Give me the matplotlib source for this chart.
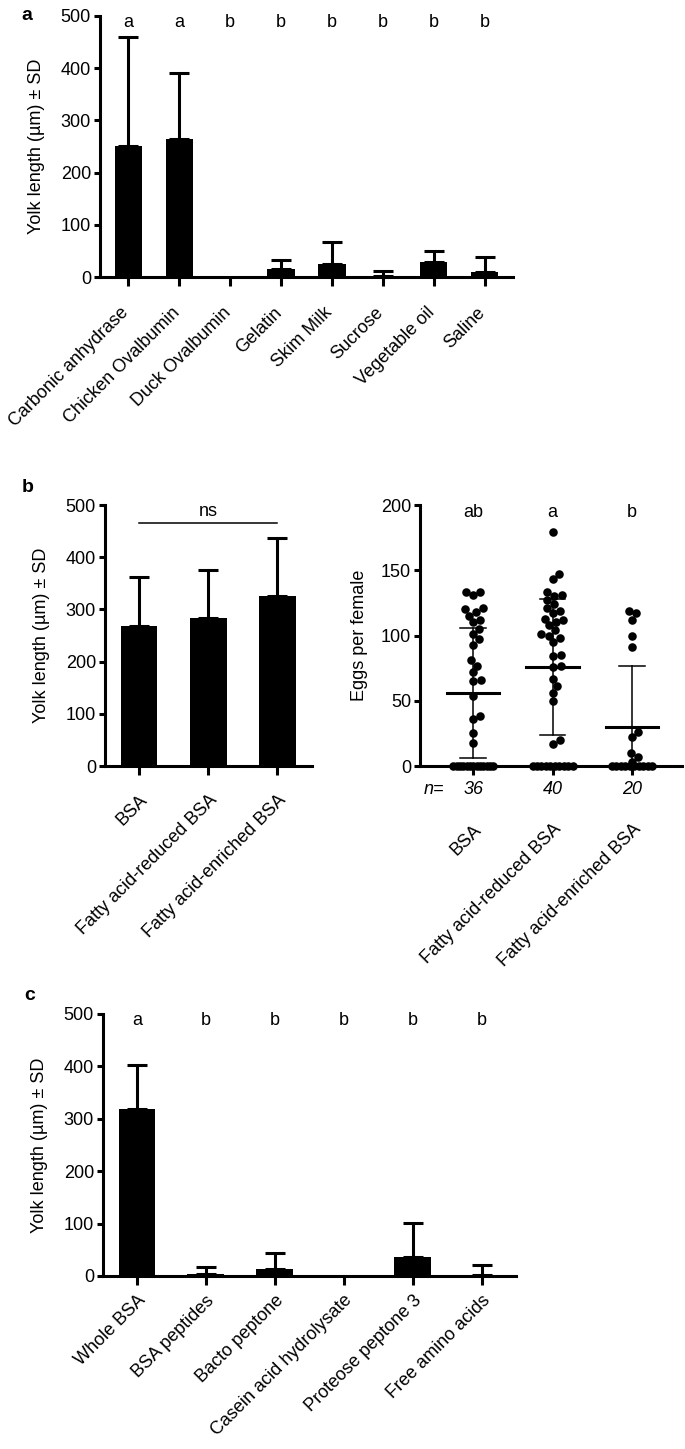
import numpy as np
import matplotlib
matplotlib.use('Agg')
import matplotlib.pyplot as plt
from matplotlib.transforms import ScaledTranslation

plt.rcParams['font.family'] = ['Liberation Sans', 'DejaVu Sans']
plt.rcParams['font.size'] = 13

W, H = 685, 1449

########################################################
# data
a_labels = ['Carbonic anhydrase', 'Chicken Ovalbumin', 'Duck Ovalbumin', 'Gelatin',
            'Skim Milk', 'Sucrose', 'Vegetable oil', 'Saline']
a_means = [251, 264, 0, 16, 24, 1, 29, 10]
a_sd = [209, 126, 0, 17, 44, 11, 21, 28]
a_letters = ['a', 'a', 'b', 'b', 'b', 'b', 'b', 'b']

b_labels = ['BSA', 'Fatty acid-reduced BSA', 'Fatty acid-enriched BSA']
b_means = [269, 283, 326]
b_sd = [94, 93, 110]

eggs_bsa = [133, 133, 131, 121, 120, 118, 115, 112, 110, 105, 101, 97, 93, 81, 77, 72,
            66, 65, 54, 38, 36, 25, 18] + [0] * 13
eggs_reduced = [179, 147, 143, 133, 131, 130, 127, 124, 121, 119, 117, 113, 112, 110, 108,
                104, 101, 100, 98, 95, 85, 84, 77, 76, 67, 61, 56, 50, 20, 17] + [0] * 10
eggs_enriched = [119, 117, 112, 100, 91, 26, 22, 10, 7, 3] + [0] * 10
eggs_mean = [56, 76, 30]
eggs_sd = [50, 52, 47]
eggs_letters = ['ab', 'a', 'b']
eggs_n = ['36', '40', '20']

c_labels = ['Whole BSA', 'BSA peptides', 'Bacto peptone', 'Casein acid hydrolysate',
            'Proteose peptone 3', 'Free amino acids']
c_means = [318, 4, 13, 0, 36, 2]
c_sd = [85, 14, 30, 0, 66, 19]
c_letters = ['a', 'b', 'b', 'b', 'b', 'b']

LW = 2.2


########################################################
def px_axes(fig, left, top, right, bottom):
    return fig.add_axes([left / W, 1 - bottom / H, (right - left) / W, (bottom - top) / H])


def style_axes(ax, xlim, labels, pad=6, dx=0):
    for s in ['top', 'right']:
        ax.spines[s].set_visible(False)
    for s in ['left', 'bottom']:
        ax.spines[s].set_linewidth(LW)
    ax.set_xlim(*xlim)
    ax.set_xticks(np.arange(len(labels)))
    ax.set_xticklabels(labels, rotation=45, ha='right', va='top', rotation_mode='anchor')
    ax.tick_params(axis='x', width=LW, length=6.5, pad=pad)
    ax.tick_params(axis='y', width=LW, length=4.5, pad=2)
    if dx:
        off = ScaledTranslation(dx / 100, 0, ax.figure.dpi_scale_trans)
        for lab in ax.get_xticklabels():
            lab.set_transform(lab.get_transform() + off)


def bar_panel(ax, labels, means, sds, xlim, letters=None, pad=6, dx=0):
    x = np.arange(len(labels))
    means = np.array(means, float)
    sds = np.array(sds, float)
    ax.bar(x, means, width=0.53, color='k', zorder=2)
    m = sds > 0
    ax.errorbar(x[m], means[m], yerr=[np.zeros(m.sum()), sds[m]], fmt='none', ecolor='k',
                elinewidth=LW, capsize=7, capthick=LW, zorder=2)
    ax.set_ylim(0, 500)
    ax.set_yticks(range(0, 501, 100))
    ax.set_ylabel('Yolk length (µm) ± SD', labelpad=11)
    style_axes(ax, xlim, labels, pad, dx)
    if letters:
        for i, t in enumerate(letters):
            ax.text(i, 487, t, ha='center', va='center')


def swarm(vals, center, xpx, ypx, d=8.3, zero_half=20):
    # simple beeswarm in pixel units; the zero row is spread evenly
    vals = np.asarray(vals, float)
    offs = np.zeros(len(vals))
    zero = np.where(vals == 0)[0]
    if len(zero) > 1:
        offs[zero] = np.linspace(-zero_half, zero_half, len(zero))
    placed = []
    cands = [0]
    for k in range(1, 40):
        cands += [k, -k]
    for i in np.argsort(vals):
        if vals[i] == 0:
            continue
        y = vals[i] * ypx
        for c in cands:
            if all((c - px) ** 2 + (y - py) ** 2 >= (0.9 * d) ** 2 for px, py in placed):
                offs[i] = c
                break
        placed.append((offs[i], y))
    return center + offs / xpx


########################################################
fig = plt.figure(figsize=(W / 100, H / 100), dpi=100)

# a
ax_a = px_axes(fig, 100, 16, 513, 277)
bar_panel(ax_a, a_labels, a_means, a_sd, (-0.55, 7.55), a_letters, pad=13, dx=-8)

# b left
ax_b1 = px_axes(fig, 105, 505, 312, 766)
bar_panel(ax_b1, b_labels, b_means, b_sd, (-0.49, 2.5), pad=12)
ax_b1.plot([0, 2], [466, 466], color='k', lw=1.1)
ax_b1.text(1, 487, 'ns', ha='center', va='center')

# b right
ax_b2 = px_axes(fig, 420, 505, 682, 766)
xpx, ypx = 79.5, 261 / 200
for i, vals in enumerate([eggs_bsa, eggs_reduced, eggs_enriched]):
    xs = swarm(vals, i, xpx, ypx)
    ax_b2.scatter(xs, vals, s=38, color='k', zorder=3, clip_on=False, linewidths=0)
    mu, sd = eggs_mean[i], eggs_sd[i]
    ax_b2.plot([i - 0.33, i + 0.33], [mu, mu], color='k', lw=LW, zorder=4)
    ax_b2.plot([i, i], [mu - sd, mu + sd], color='k', lw=1.1, zorder=4)
    ax_b2.plot([i - 0.16, i + 0.16], [mu + sd, mu + sd], color='k', lw=1.1, zorder=4)
    ax_b2.plot([i - 0.16, i + 0.16], [mu - sd, mu - sd], color='k', lw=1.1, zorder=4)
    ax_b2.text(i, 194, eggs_letters[i], ha='center', va='center')
    ax_b2.annotate(eggs_n[i], xy=(i, 0), xycoords=('data', 'axes fraction'),
                   xytext=(0, -17), textcoords='offset points', ha='center', va='center',
                   style='italic')
ax_b2.annotate('n=', xy=(-0.5, 0), xycoords=('data', 'axes fraction'),
               xytext=(0, -17), textcoords='offset points', ha='center', va='center',
               style='italic')
ax_b2.set_ylim(0, 200)
ax_b2.set_yticks(range(0, 201, 50))
ax_b2.set_ylabel('Eggs per female', labelpad=9)
style_axes(ax_b2, (-0.67, 2.63), b_labels, pad=33)

# c
ax_c = px_axes(fig, 103, 1014, 516, 1276)
bar_panel(ax_c, c_labels, c_means, c_sd, (-0.49, 5.5), c_letters, pad=5)

for t, x, y in [('a', 27, 16), ('b', 28, 487), ('c', 30, 995)]:
    fig.text(x / W, 1 - y / H, t, weight='bold', size=14, ha='center', va='center')

fig.savefig('out.png', dpi=100)
